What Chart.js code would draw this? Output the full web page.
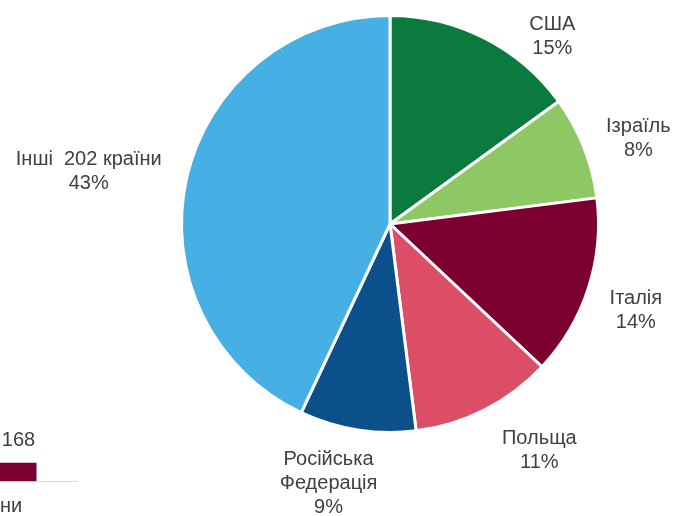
<!DOCTYPE html>
<html>
<head>
<meta charset="utf-8">
<script src="https://cdn.jsdelivr.net/npm/chart.js@4"></script>
<style>
    body { margin: 0; background: #fff; width: 674px; height: 516px; overflow: hidden; position: relative;
           font-family: "Liberation Sans", Arial, sans-serif; }
    #pie { position: absolute; left: 0; top: 0; }
    #side { position: absolute; left: -120px; top: 407px; }
    #cut { position: absolute; left: 0; top: 493px; font-size: 20px; color: #404040; line-height: 24px; }
</style>
</head>
<body>
<canvas id="pie" width="674" height="516"></canvas>
<canvas id="side" width="198" height="130"></canvas>
<div id="cut">ни</div>
<script>
// shares of the pie, clockwise from the top
const countries = ['США', 'Ізраїль', 'Італія', 'Польща', 'Російська Федерація', 'Інші 202 країни'];
const shares = [15, 8, 14, 11, 9, 43];
const labelLines = [['США'], ['Ізраїль'], ['Італія'], ['Польща'], ['Російська', 'Федерація'], ['Інші  202 країни']];
const sliceColours = ['#0a7a3f', '#8dc865', '#7b0030', '#dc4d66', '#0b4f8b', '#46afe4'];

// the cut-off bar chart in the lower left corner
const sideLabels = ['країни'];
const sideValues = [168];

const font = '20px "Liberation Sans", Arial, sans-serif';
const textColour = '#404040';

document.addEventListener('DOMContentLoaded', () => {

    // label shift away from the pure radial spot, same order as countries
    const nudges = [[45, 43], [8, 10], [0, 7], [32, -4], [-21, 4], [-49, 4]];

    const pieLabels = {
        id: 'pieLabels',
        afterDatasetsDraw(chart) {
            const ctx = chart.ctx;
            const meta = chart.getDatasetMeta(0);
            ctx.save();
            ctx.font = font;
            ctx.fillStyle = textColour;
            ctx.textAlign = 'center';
            ctx.textBaseline = 'middle';
            meta.data.forEach((arc, i) => {
                const mid = (arc.startAngle + arc.endAngle) / 2;
                const dist = arc.outerRadius + 50;
                const x = arc.x + Math.cos(mid) * dist + nudges[i][0];
                const y = arc.y + Math.sin(mid) * dist + nudges[i][1];
                const lines = labelLines[i].concat(shares[i] + '%');
                const top = y - (lines.length - 1) * 12;
                lines.forEach((t, k) => ctx.fillText(t, x, top + k * 24));
            });
            ctx.restore();
        }
    };

    new Chart(document.getElementById('pie'), {
        type: 'pie',
        data: {
            labels: countries,
            datasets: [{
                data: shares,
                backgroundColor: sliceColours,
                borderColor: '#ffffff',
                borderWidth: 3,
                hoverOffset: 0
            }]
        },
        options: {
            responsive: false,
            animation: false,
            layout: { padding: { left: 180, right: 74, top: 14, bottom: 82 } },
            plugins: { legend: { display: false }, tooltip: { enabled: false } }
        },
        plugins: [pieLabels]
    });

    const sideExtras = {
        id: 'sideExtras',
        afterDatasetsDraw(chart) {
            const ctx = chart.ctx;
            const bar = chart.getDatasetMeta(0).data[0];
            const bottom = bar.y + bar.height / 2;
            ctx.save();
            ctx.strokeStyle = '#d9d9d9';
            ctx.lineWidth = 1;
            ctx.beginPath();
            ctx.moveTo(bar.x, bottom + 0.5);
            ctx.lineTo(chart.chartArea.right, bottom + 0.5);
            ctx.stroke();
            ctx.font = font;
            ctx.fillStyle = textColour;
            ctx.textAlign = 'right';
            ctx.textBaseline = 'middle';
            ctx.fillText(sideValues[0], bar.x - 1, bar.y - 32);
            ctx.restore();
        }
    };

    new Chart(document.getElementById('side'), {
        type: 'bar',
        data: {
            labels: sideLabels,
            datasets: [{ data: sideValues, backgroundColor: '#7b0030', barThickness: 18 }]
        },
        options: {
            indexAxis: 'y',
            responsive: false,
            animation: false,
            layout: { padding: 0 },
            plugins: { legend: { display: false }, tooltip: { enabled: false } },
            scales: {
                x: { display: false, min: 0, max: 213 },
                y: { display: false }
            }
        },
        plugins: [sideExtras]
    });
});
</script>
</body>
</html>
